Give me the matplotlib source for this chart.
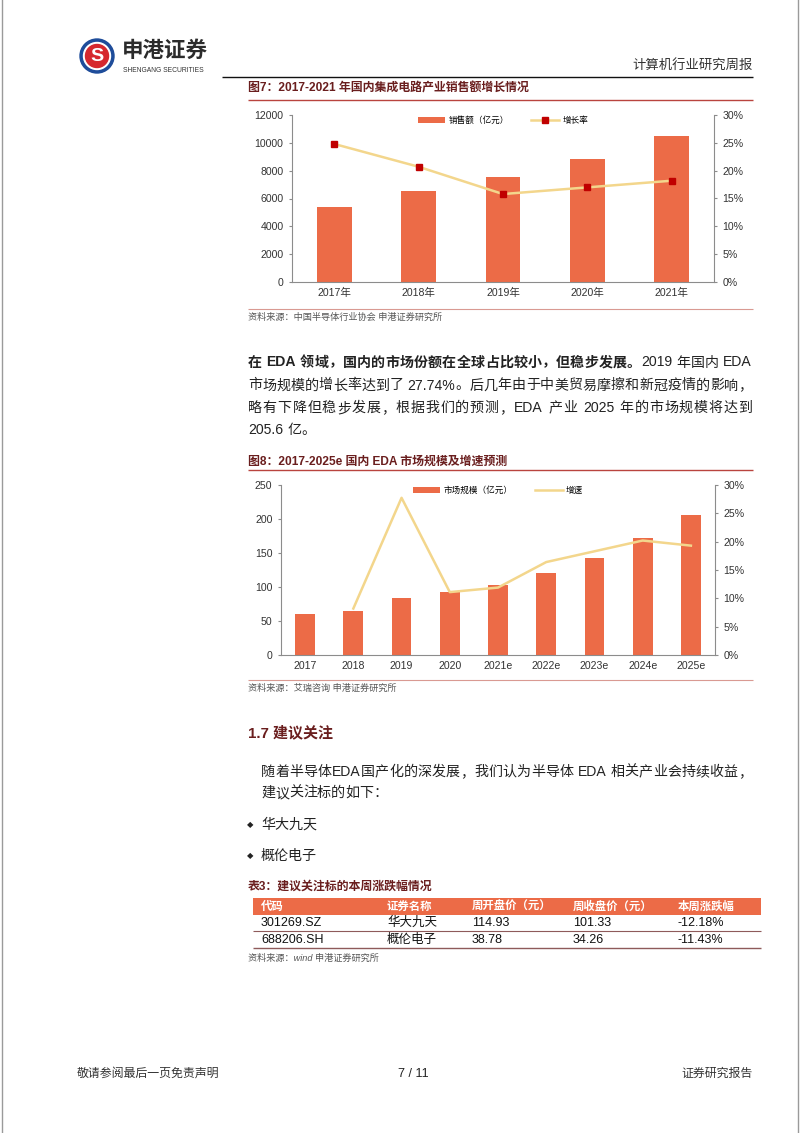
import re
import numpy as np
import matplotlib
matplotlib.use('Agg')
import matplotlib.pyplot as plt
from matplotlib.patches import Rectangle, Circle

plt.rcParams['font.family'] = ['Liberation Sans', 'Noto Sans CJK SC', 'DejaVu Sans']

W, H, DPI = 802, 1133, 100

# 图7：集成电路产业销售额
ic_years = ['2017年', '2018年', '2019年', '2020年', '2021年']
ic_sales = [5411, 6532, 7562, 8848, 10458]
ic_growth = [24.8, 20.7, 15.8, 17.0, 18.2]

# 图8：EDA 市场规模
eda_years = ['2017', '2018', '2019', '2020', '2021e', '2022e', '2023e', '2024e', '2025e']
eda_size = [60.0, 65.0, 83.5, 92.5, 103.5, 120.5, 143.0, 171.5, 205.6]
eda_growth = [np.nan, 8.2, 27.74, 11.1, 11.9, 16.4, 18.3, 20.2, 19.3]

# 表3
tbl_cols = ['代码', '证券名称', '周开盘价（元）', '周收盘价（元）', '本周涨跌幅']
tbl_codes = ['301269.SZ', '688206.SH']
tbl_names = ['华大九天', '概伦电子']
tbl_open = ['114.93', '38.78']
tbl_close = ['101.33', '34.26']
tbl_chg = ['-12.18%', '-11.43%']

BAR = '#EC6B47'
LINE = '#F3D68C'
MARK = '#C00000'
MAROON = '#6A1E1E'
RULE = '#B9443E'
SRC_RULE = '#D99A92'
SPINE = '#8C8C8C'
TXT = '#222222'

fig = plt.figure(figsize=(W / DPI, H / DPI), dpi=DPI)
fig.patch.set_facecolor('white')
page = fig.add_axes([0, 0, 1, 1])
page.set_xlim(0, W)
page.set_ylim(H, 0)
page.axis('off')
renderer = fig.canvas.get_renderer()


def txt(x, y, s, size, **kw):
    kw.setdefault('va', 'center')
    kw.setdefault('ha', 'left')
    kw.setdefault('color', TXT)
    return page.text(x, y, s, fontsize=size, **kw)


def hline(y, x0, x1, color, lw=0.8):
    page.plot([x0, x1], [y, y], color=color, lw=lw, solid_capstyle='butt')


def is_wide(ch):
    return ord(ch) > 0x2E80


def tok_width(s, size, wt):
    if len(s) == 1 and is_wide(s):
        return size * DPI / 72
    if s == ' ':
        return 0.28 * size * DPI / 72
    t = page.text(0, 0, s, fontsize=size, fontweight=wt)
    w = t.get_window_extent(renderer).width
    t.remove()
    return w


def para_line(x0, x1, y, segments, size, justify=True):
    # y is baseline; segments = [(text, weight), ...]
    toks = []
    for s, wt in segments:
        for m in re.finditer(r'[A-Za-z0-9.%\-]+| |.', s):
            toks.append((m.group(0), wt))
    widths = [tok_width(s, size, wt) for s, wt in toks]
    gap = 0.0
    if justify and len(toks) > 1:
        gap = (x1 - x0 - sum(widths)) / (len(toks) - 1)
    x = x0
    for (s, wt), w in zip(toks, widths):
        if s != ' ':
            if s in '（“':
                page.text(x + w, y, s, fontsize=size, fontweight=wt, ha='right',
                          va='baseline', color=TXT)
            else:
                page.text(x, y, s, fontsize=size, fontweight=wt, ha='left',
                          va='baseline', color=TXT)
        x += w + gap


def px_axes(l, t, r, b):
    return fig.add_axes([l / W, 1 - b / H, (r - l) / W, (b - t) / H])


def style_axes(ax, axr):
    for k in ['top', 'right']:
        ax.spines[k].set_visible(False)
    for k in ['top', 'left', 'bottom']:
        axr.spines[k].set_visible(False)
    for sp in [ax.spines['left'], ax.spines['bottom'], axr.spines['right']]:
        sp.set_color(SPINE)
        sp.set_linewidth(0.8)
    ax.tick_params(axis='x', length=0, pad=4.5, labelsize=7.6, labelcolor='#333333')
    ax.tick_params(axis='y', length=2.2, width=0.8, color=SPINE, pad=4,
                   labelsize=7.6, labelcolor='#333333')
    axr.tick_params(axis='y', length=2.2, width=0.8, color=SPINE, pad=4,
                    labelsize=7.6, labelcolor='#333333')
    axr.yaxis.set_major_formatter(lambda v, p: f'{v:.0f}%')


# ---- page border / header ----
page.plot([1.5, 1.5], [0, H], color='#9A9A9A', lw=1)
page.plot([797.5, 797.5], [0, H], color='#9A9A9A', lw=1)

page.add_patch(Circle((97, 56), 17, color='#1E4C9A'))
page.add_patch(Circle((97, 56), 13.5, color='white'))
page.add_patch(Circle((97, 56), 11.5, color='#D6282E'))
txt(97, 56.5, 'S', 14, ha='center', color='white', fontweight='bold')
txt(122, 51, '申港证券', 15.5, fontweight='bold', color='#2B2B2B')
txt(123, 71, 'SHENGANG SECURITIES', 4.9, color='#333333')

txt(753, 66, '计算机行业研究周报', 9.6, ha='right', color='#333333')
hline(77, 222, 753, '#111111', 1.0)

# ---- 图7 ----
txt(248, 89, '图7：2017-2021 年国内集成电路产业销售额增长情况', 8.6,
    fontweight='bold', color=MAROON)
hline(99.5, 248, 753, RULE, 1.0)

ax1 = px_axes(292, 115, 714, 282)
x1 = np.arange(len(ic_years))
b1 = ax1.bar(x1, ic_sales, width=0.41, color=BAR, label='销售额（亿元）', zorder=2)
ax1.set_xlim(-0.5, len(x1) - 0.5)
ax1.set_ylim(0, 12000)
ax1.set_yticks(range(0, 12001, 2000))
ax1.set_xticks(x1, ic_years)
ax1r = ax1.twinx()
l1, = ax1r.plot(x1, ic_growth, color=LINE, lw=1.8, marker='s', ms=5,
                mfc=MARK, mec=MARK, label='增长率')
ax1r.set_ylim(0, 30)
ax1r.set_yticks(range(0, 31, 5))
style_axes(ax1, ax1r)
ax1r.legend([b1, l1], ['销售额（亿元）', '增长率'], loc='upper center',
            bbox_to_anchor=(0.5, 1.04), ncol=2, frameon=False, fontsize=6.2,
            handlelength=3.2, handleheight=0.8, columnspacing=2.6, handletextpad=0.4)

hline(309, 248, 753, SRC_RULE, 0.8)
txt(248, 317, '资料来源：中国半导体行业协会 申港证券研究所', 6.6, color='#555555',
    style='italic')

# ---- 正文 ----
para_line(248, 752, 366.5, [('在 EDA 领域，国内的市场份额在全球占比较小，但稳步发展。', 'bold'),
                           ('2019 年国内 EDA', 'normal')], 10.1)
para_line(248, 752, 389.5, [('市场规模的增长率达到了 27.74%。后几年由于中美贸易摩擦和新冠疫情的影响，', 'normal')], 10.1)
para_line(248, 752, 412, [('略有下降但稳步发展，根据我们的预测，EDA 产业 2025 年的市场规模将达到', 'normal')], 10.1)
para_line(248, 752, 434, [('205.6 亿。', 'normal')], 10.1, justify=False)

# ---- 图8 ----
txt(248, 462, '图8：2017-2025e 国内 EDA 市场规模及增速预测', 8.6,
    fontweight='bold', color=MAROON)
hline(469.5, 248, 753, RULE, 1.0)

ax2 = px_axes(281, 485, 715, 655)
x2 = np.arange(len(eda_years))
b2 = ax2.bar(x2, eda_size, width=0.41, color=BAR, zorder=2)
ax2.set_xlim(-0.5, len(x2) - 0.5)
ax2.set_ylim(0, 250)
ax2.set_yticks(range(0, 251, 50))
ax2.set_xticks(x2, eda_years)
ax2r = ax2.twinx()
l2, = ax2r.plot(x2, eda_growth, color=LINE, lw=1.8)
ax2r.set_ylim(0, 30)
ax2r.set_yticks(range(0, 31, 5))
style_axes(ax2, ax2r)
ax2r.legend([b2, l2], ['市场规模（亿元）', '增速'], loc='upper center',
            bbox_to_anchor=(0.5, 1.04), ncol=2, frameon=False, fontsize=6.2,
            handlelength=3.2, handleheight=0.8, columnspacing=2.6, handletextpad=0.4)

hline(680, 248, 753, SRC_RULE, 0.8)
txt(248, 688, '资料来源：艾瑞咨询 申港证券研究所', 6.6, color='#555555', style='italic')

# ---- 1.7 建议关注 ----
txt(248, 733, '1.7 建议关注', 10.8, fontweight='bold', color=MAROON)
para_line(261, 752, 776, [('随着半导体EDA国产化的深发展，我们认为半导体 EDA 相关产业会持续收益，', 'normal')], 10.1)
para_line(261, 752, 797, [('建议关注标的如下：', 'normal')], 10.1, justify=False)
for yy, name in zip([825, 856], tbl_names):
    txt(250, yy, '◆', 6, ha='center', color='#222222', family=['DejaVu Sans'])
    txt(261, yy, name, 10.1)

# ---- 表3 ----
txt(248, 887, '表3：建议关注标的本周涨跌幅情况', 8.6, fontweight='bold', color=MAROON)
page.add_patch(Rectangle((253, 898), 508, 17, color=BAR, lw=0))
col_x = [261, 387, 472, 573, 678]
for cx, head in zip(col_x, tbl_cols):
    txt(cx, 906.5, head, 8.2, color='white', fontweight='bold')
row_y = [923, 940]
for i, ry in enumerate(row_y):
    vals = [tbl_codes[i], tbl_names[i], tbl_open[i], tbl_close[i], tbl_chg[i]]
    for cx, v in zip(col_x, vals):
        txt(cx, ry, v, 9.0, color='#111111')
hline(931, 253, 761, '#8E5A5A', 0.8)
hline(947.5, 253, 761, '#8E5A5A', 1.0)
txt(248, 958, '资料来源：wind 申港证券研究所', 6.6, color='#555555', style='italic')

# ---- footer ----
txt(77, 1074, '敬请参阅最后一页免责声明', 8.6, color='#333333')
txt(413, 1074, '7 / 11', 9, ha='center', color='#222222')
txt(753, 1074, '证券研究报告', 8.6, ha='right', color='#333333')

fig.savefig('out.png', dpi=DPI, facecolor='white')
